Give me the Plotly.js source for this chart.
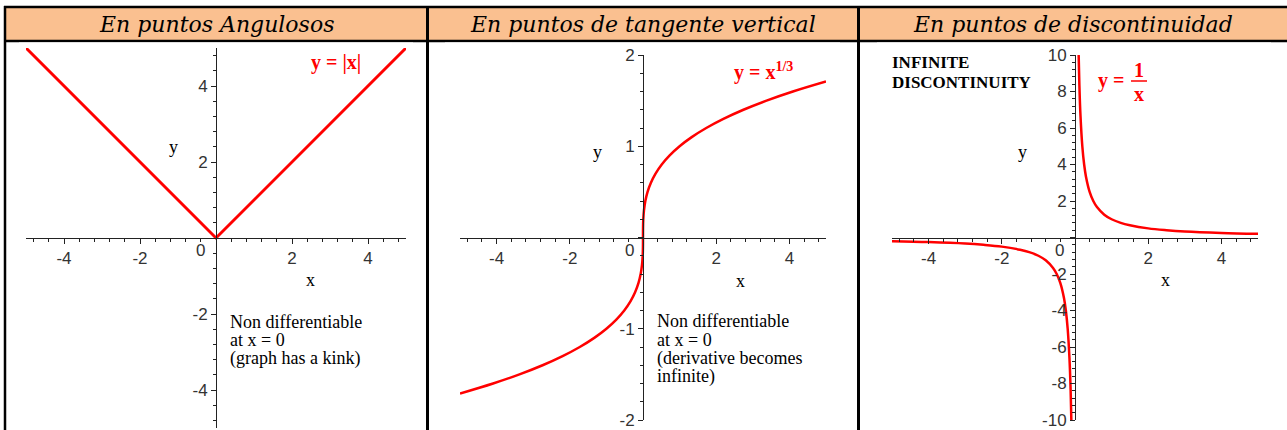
<!DOCTYPE html>
<html>
<head>
<meta charset="utf-8">
<script src="https://cdn.plot.ly/plotly-3.0.1.min.js"></script>
<style>
  html, body { margin: 0; padding: 0; background: #fff; }
  #chart { width: 1287px; height: 430px; }
</style>
</head>
<body>
<div id="chart"></div>
<script>
const W = 1287, H = 430;

// column headers
const headers = ['En puntos Angulosos', 'En puntos de tangente vertical', 'En puntos de discontinuidad'];

// panel 1: y = |x|
const absX = [-5, 0, 5];
const absY = [5, 0, 5];

// panel 2: y = x^(1/3)
const cbrtX = [-5, -4.096, -3.375, -2.744, -2.197, -1.728, -1.331, -1, -0.729, -0.512, -0.343, -0.216, -0.125,
  -0.064, -0.027, -0.008, -0.001, 0, 0.001, 0.008, 0.027, 0.064, 0.125, 0.216, 0.343, 0.512, 0.729, 1,
  1.331, 1.728, 2.197, 2.744, 3.375, 4.096, 5];
const cbrtY = [-1.71, -1.6, -1.5, -1.4, -1.3, -1.2, -1.1, -1, -0.9, -0.8, -0.7, -0.6, -0.5,
  -0.4, -0.3, -0.2, -0.1, 0, 0.1, 0.2, 0.3, 0.4, 0.5, 0.6, 0.7, 0.8, 0.9, 1,
  1.1, 1.2, 1.3, 1.4, 1.5, 1.6, 1.71];

// panel 3: y = 1/x, two branches
const recipXNeg = [-5, -4, -3, -2.5, -2, -1.5, -1.25, -1, -0.8, -0.6, -0.5, -0.4, -0.3, -0.25, -0.2, -0.15, -0.12, -0.1];
const recipYNeg = [-0.2, -0.25, -0.33, -0.4, -0.5, -0.67, -0.8, -1, -1.25, -1.67, -2, -2.5, -3.33, -4, -5, -6.67, -8.33, -10];
const recipXPos = [0.1, 0.12, 0.15, 0.2, 0.25, 0.3, 0.4, 0.5, 0.6, 0.8, 1, 1.25, 1.5, 2, 2.5, 3, 4, 5];
const recipYPos = [10, 8.33, 6.67, 5, 4, 3.33, 2.5, 2, 1.67, 1.25, 1, 0.8, 0.67, 0.5, 0.4, 0.33, 0.25, 0.2];

// tick labels
const xTickVals = [-4, -2, 0, 2, 4];
const xTickText = ['-4', '-2', '', '2', '4'];
const y1TickVals = [-4, -2, 0, 2, 4];
const y1TickText = ['-4', '-2', '', '2', '4'];
const y2TickVals = [-2, -1, 0, 1, 2];
const y2TickText = ['-2', '-1', '', '1', '2'];
const y3TickVals = [-10, -8, -6, -4, -2, 0, 2, 4, 6, 8, 10];
const y3TickText = ['-10', '-8', '-6', '-4', '-2', '', '2', '4', '6', '8', '10'];

// note texts
const note1 = ['Non differentiable', 'at x = 0', '(graph has a kink)'];
const note2 = ['Non differentiable', 'at x = 0', '(derivative becomes', 'infinite)'];
const note3 = ['INFINITE', 'DISCONTINUITY'];

// pixel helpers -> paper coords
const px = v => v / W;
const py = v => 1 - v / H;

const RED = '#ff0000';
const TICKFONT = { family: 'Liberation Sans, Arial, sans-serif', size: 17, color: '#333' };
const SERIF = 'Liberation Serif, Times New Roman, serif';

// plot boxes in pixels
const boxes = [
  { x: [26, 406], y: [48, 428], xr: [-5, 5], yr: [-5, 5] },
  { x: [460, 826], y: [55, 420], xr: [-5, 5], yr: [-2, 2] },
  { x: [892, 1258], y: [55, 420], xr: [-5, 5], yr: [-10, 10] },
];

function axisPair(i, yVals, yText, minorY) {
  const b = boxes[i];
  const xd = [px(b.x[0]), px(b.x[1])];
  const yd = [py(b.y[1]), py(b.y[0])];
  // where the other axis crosses zero
  const xPos = yd[0] + (0 - b.yr[0]) / (b.yr[1] - b.yr[0]) * (yd[1] - yd[0]);
  const yPos = xd[0] + (0 - b.xr[0]) / (b.xr[1] - b.xr[0]) * (xd[1] - xd[0]);
  const common = {
    showgrid: false, zeroline: false, showline: true,
    linecolor: '#222', linewidth: 1, ticks: 'outside', ticklen: 5,
    tickcolor: '#222', tickwidth: 1, tickfont: TICKFONT, fixedrange: true,
    anchor: 'free', tickmode: 'array',
  };
  const n = i === 0 ? '' : String(i + 1);
  return {
    ['xaxis' + n]: Object.assign({}, common, {
      domain: xd, range: b.xr, position: xPos,
      tickvals: xTickVals, ticktext: xTickText,
      minor: { tickmode: 'linear', tick0: 0, dtick: 0.4, ticks: 'outside', ticklen: 3, tickcolor: '#222' },
    }),
    ['yaxis' + n]: Object.assign({}, common, {
      domain: yd, range: b.yr, position: yPos,
      tickvals: yVals, ticktext: yText,
      minor: { tickmode: 'linear', tick0: 0, dtick: minorY, ticks: 'outside', ticklen: 3, tickcolor: '#222' },
    }),
  };
}

const traces = [
  { x: absX, y: absY, xaxis: 'x', yaxis: 'y', mode: 'lines', line: { color: RED, width: 3 } },
  { x: cbrtX, y: cbrtY, xaxis: 'x2', yaxis: 'y2', mode: 'lines', line: { color: RED, width: 2.5, shape: 'spline' } },
  { x: recipXNeg, y: recipYNeg, xaxis: 'x3', yaxis: 'y3', mode: 'lines', line: { color: RED, width: 2.5, shape: 'spline' } },
  { x: recipXPos, y: recipYPos, xaxis: 'x3', yaxis: 'y3', mode: 'lines', line: { color: RED, width: 2.5, shape: 'spline' } },
];

// table frame
const line = (x0, y0, x1, y1, w) => ({
  type: 'line', xref: 'paper', yref: 'paper', layer: 'below',
  x0: px(x0), y0: py(y0), x1: px(x1), y1: py(y1), line: { color: '#000', width: w },
});
const rect = (x0, y0, x1, y1, fill) => ({
  type: 'rect', xref: 'paper', yref: 'paper', layer: 'below',
  x0: px(x0), y0: py(y0), x1: px(x1), y1: py(y1), fillcolor: fill, line: { width: 0 },
});

const shapes = [
  rect(5, 7, W, 40, '#fac090'),
  line(4, 7, W, 7, 2.5),
  line(5, 6, 5, H, 2.5),
  line(4, 41, W, 41, 2.5),
  line(427.5, 6, 427.5, H, 3),
  line(858.5, 6, 858.5, H, 3),
  // plot pictures sit over the header rule
  rect(19, 42.5, 413, H, '#fff'),
  rect(445, 42.5, 840, H, '#fff'),
  rect(877, 42.5, 1271, H, '#fff'),
  // fraction bar for y = 1/x
  { type: 'line', xref: 'paper', yref: 'paper', x0: px(1131), x1: px(1147), y0: py(81), y1: py(81),
    line: { color: RED, width: 1.5 } },
];

const ann = (x, y, text, font, xanchor, yanchor) => ({
  xref: 'paper', yref: 'paper', x: px(x), y: py(y), text: text, showarrow: false,
  font: font, xanchor: xanchor || 'center', yanchor: yanchor || 'middle', align: 'left',
});
// one annotation per text line, fixed spacing
const block = (x, y0, step, rows, font, wrap) =>
  rows.map((r, k) => ann(x, y0 + k * step, wrap ? wrap(r) : r, font, 'left', 'middle'));

const plain = { family: SERIF, size: 18, color: '#000' };
const redBold = { family: SERIF, size: 20, color: RED };
const headFont = { family: 'DejaVu Serif, serif', size: 22, color: '#000' };

const annotations = [
  ann(216, 24, '<i>' + headers[0] + '</i>', headFont),
  ann(643, 24, '<i>' + headers[1] + '</i>', headFont),
  ann(1073, 24, '<i>' + headers[2] + '</i>', headFont),
  // origin labels
  ann(200, 250, '0', TICKFONT), ann(629, 250, '0', TICKFONT), ann(1059, 250, '0', TICKFONT),
  // axis names
  ann(173, 147, 'y', plain), ann(310, 280, 'x', plain),
  ann(597, 152, 'y', plain), ann(740, 281, 'x', plain),
  ann(1022, 152, 'y', plain), ann(1165, 280, 'x', plain),
  // function labels
  ann(336, 62, '<b>y = |x|</b>', redBold),
  ann(763, 72, '<b>y = x<sup>1/3</sup></b>', redBold),
  ann(1111, 80, '<b>y =</b>', redBold),
  ann(1139, 70, '<b>1</b>', redBold),
  ann(1139, 94, '<b>x</b>', redBold),
].concat(
  block(228, 322, 18, note1, plain),
  block(655, 321, 18.5, note2, plain),
  block(890, 63, 19, note3, { family: SERIF, size: 17, color: '#000' }, r => '<b>' + r + '</b>')
);

const layout = Object.assign({
  width: W, height: H,
  margin: { l: 0, r: 0, t: 0, b: 0 },
  paper_bgcolor: '#fff', plot_bgcolor: 'rgba(0,0,0,0)',
  showlegend: false,
  shapes: shapes,
  annotations: annotations,
},
  axisPair(0, y1TickVals, y1TickText, 0.4),
  axisPair(1, y2TickVals, y2TickText, 0.2),
  axisPair(2, y3TickVals, y3TickText, 0.4));

Plotly.newPlot('chart', traces, layout, { displayModeBar: false, staticPlot: true });
</script>
</body>
</html>
